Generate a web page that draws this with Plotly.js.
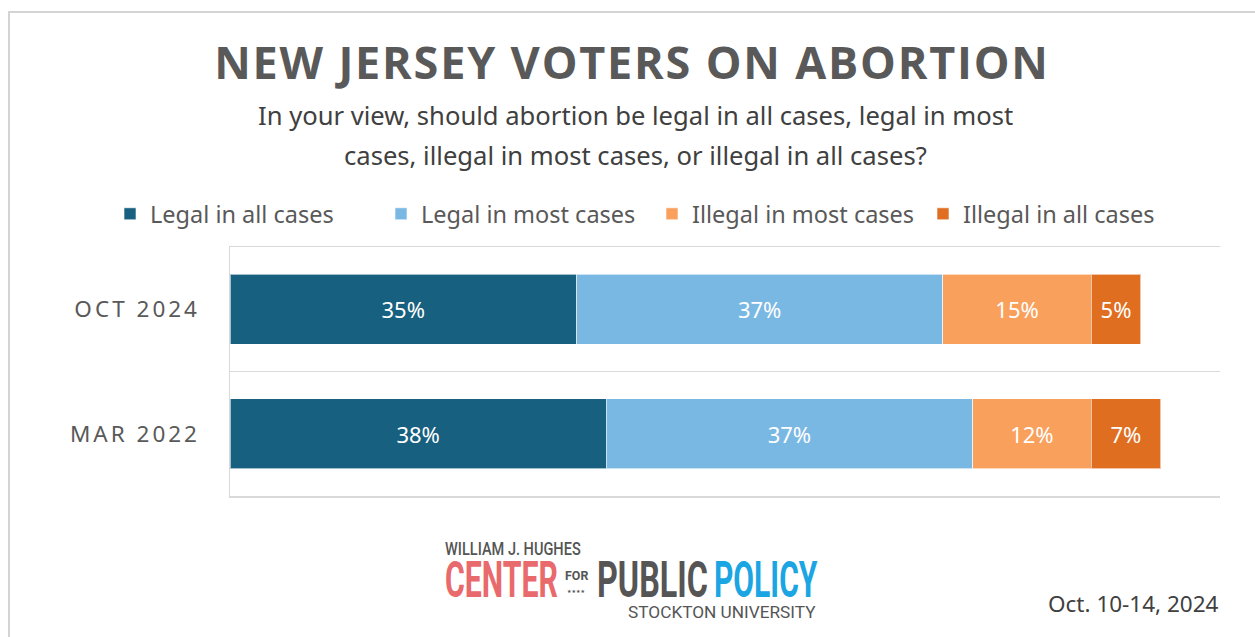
<!DOCTYPE html>
<html>
<head>
<meta charset="utf-8">
<script src="https://cdn.plot.ly/plotly-3.0.1.min.js"></script>
<style>
  html, body { margin: 0; padding: 0; background: #ffffff; }
  #wrap { position: relative; width: 1255px; height: 637px; overflow: hidden; }
  #frame { position: absolute; left: 8px; top: 11px; width: 1300px; height: 700px;
           border-top: 2px solid #d4d4d4; border-left: 2px solid #d4d4d4; }
  #chart { position: absolute; left: 0; top: 0; width: 1255px; height: 637px; }
  .ytick text { letter-spacing: 3px; }
  .gtitle { letter-spacing: 1.8px; }
</style>
</head>
<body>
<div id="wrap">
  <div id="frame"></div>
  <div id="chart"></div>
</div>
<script>
// ---- data ----
const periods = ['OCT 2024', 'MAR 2022'];
const seriesNames = ['Legal in all cases', 'Legal in most cases', 'Illegal in most cases', 'Illegal in all cases'];
const legalAll    = [35, 38];
const legalMost   = [37, 37];
const illegalMost = [15, 12];
const illegalAll  = [5, 7];
const seriesColors = ['#17607f', '#7ab8e4', '#f9a05c', '#e06e21'];

const seriesValues = [legalAll, legalMost, illegalMost, illegalAll];

const traces = seriesValues.map((vals, i) => ({
  type: 'bar',
  orientation: 'h',
  name: seriesNames[i],
  y: periods,
  x: vals,
  text: vals.map(v => v + '%'),
  textposition: 'inside',
  insidetextanchor: 'middle',
  constraintext: 'none',
  textfont: { family: 'Noto Sans, sans-serif', size: 22, color: '#ffffff' },
  marker: { color: seriesColors[i], line: { color: 'rgba(255,255,255,0.6)', width: 1 } },
  hoverinfo: 'skip'
}));

// pixel helpers for annotation placement (plot area: x 230..1220, y 247..496)
const px = p => (p - 230) / 990;
const py = p => (496 - p) / 249;

const logoFont = 'Roboto, sans-serif';

const layout = {
  width: 1255,
  height: 637,
  paper_bgcolor: 'rgba(0,0,0,0)',
  plot_bgcolor: 'rgba(0,0,0,0)',
  margin: { l: 230, r: 35, t: 247, b: 141, pad: 0, autoexpand: false },
  barmode: 'stack',
  bargap: 0.44,
  showlegend: true,
  title: {
    text: 'NEW JERSEY VOTERS ON ABORTION',
    font: { family: 'Open Sans, sans-serif', size: 45, color: '#595959', weight: 700 },
    xref: 'container', x: 632 / 1255, xanchor: 'center',
    yref: 'container', y: 1 - 63 / 637, yanchor: 'middle'
  },
  legend: {
    orientation: 'h',
    xref: 'paper', x: px(110), xanchor: 'left',
    yref: 'paper', y: py(214), yanchor: 'middle',
    font: { family: 'Noto Sans, sans-serif', size: 23.5, color: '#595959' },
    entrywidth: 226,
    entrywidthmode: 'pixels',
    traceorder: 'normal',
    itemclick: false, itemdoubleclick: false
  },
  xaxis: {
    range: [0, 100],
    showticklabels: false,
    showgrid: false,
    zeroline: false,
    ticks: '',
    showline: true,
    mirror: true,
    linecolor: '#d9d9d9',
    linewidth: 1.5,
    fixedrange: true
  },
  yaxis: {
    type: 'category',
    autorange: false,
    range: [1.5, -0.5],
    tickson: 'boundaries',
    showgrid: true,
    gridcolor: '#d9d9d9',
    gridwidth: 1.5,
    showline: true,
    linecolor: '#d9d9d9',
    linewidth: 1.5,
    ticks: '',
    ticklabelstandoff: 24,
    tickfont: { family: 'Noto Sans, sans-serif', size: 22.5, color: '#595959' },
    zeroline: false,
    fixedrange: true
  },
  annotations: [
    {
      text: 'In your view, should abortion be legal in all cases, legal in most',
      xref: 'paper', yref: 'paper', x: px(635), y: py(116),
      xanchor: 'center', yanchor: 'middle', showarrow: false, align: 'center',
      font: { family: 'Noto Sans, sans-serif', size: 25.6, color: '#404040' }
    },
    {
      text: 'cases, illegal in most cases, or illegal in all cases?',
      xref: 'paper', yref: 'paper', x: px(635), y: py(155),
      xanchor: 'center', yanchor: 'middle', showarrow: false, align: 'center',
      font: { family: 'Noto Sans, sans-serif', size: 25.6, color: '#404040' }
    },
    {
      text: 'WILLIAM J. HUGHES',
      xref: 'paper', yref: 'paper', x: px(443), y: py(548),
      xanchor: 'left', yanchor: 'middle', showarrow: false,
      font: { family: logoFont, size: 16, color: '#555555', weight: 500 }
    },
    {
      text: 'CENTER',
      xref: 'paper', yref: 'paper', x: px(443), y: py(580),
      xanchor: 'left', yanchor: 'middle', showarrow: false,
      font: { family: logoFont, size: 36, color: '#e96a6c', weight: 700 }
    },
    {
      text: 'FOR',
      xref: 'paper', yref: 'paper', x: px(563), y: py(575),
      xanchor: 'left', yanchor: 'middle', showarrow: false,
      font: { family: logoFont, size: 13, color: '#555555', weight: 700 }
    },
    {
      text: '★★★★',
      xref: 'paper', yref: 'paper', x: px(565), y: py(591),
      xanchor: 'left', yanchor: 'middle', showarrow: false,
      font: { family: 'DejaVu Sans, sans-serif', size: 5, color: '#555555' }
    },
    {
      text: 'PUBLIC',
      xref: 'paper', yref: 'paper', x: px(595), y: py(580),
      xanchor: 'left', yanchor: 'middle', showarrow: false,
      font: { family: logoFont, size: 36, color: '#555555', weight: 700 }
    },
    {
      text: 'POLICY',
      xref: 'paper', yref: 'paper', x: px(712), y: py(580),
      xanchor: 'left', yanchor: 'middle', showarrow: false,
      font: { family: logoFont, size: 36, color: '#1ba5e3', weight: 700 }
    },
    {
      text: 'STOCKTON UNIVERSITY',
      xref: 'paper', yref: 'paper', x: px(626), y: py(612),
      xanchor: 'left', yanchor: 'middle', showarrow: false,
      font: { family: logoFont, size: 16, color: '#555555' }
    },
    {
      text: 'Oct. 10-14, 2024',
      xref: 'paper', yref: 'paper', x: px(1221), y: py(603),
      xanchor: 'right', yanchor: 'middle', showarrow: false,
      font: { family: 'Noto Sans, sans-serif', size: 22.5, color: '#404040' }
    }
  ]
};

// logo word boxes: target width (px) and vertical stretch, to mimic the condensed logo typeface
const logoFit = {
  'WILLIAM J. HUGHES':   { w: 136, sy: 1.15 },
  'CENTER':              { w: 113, sy: 1.40 },
  'FOR':                 { w: 24,  sy: 1.0 },
  'PUBLIC':              { w: 111, sy: 1.40 },
  'POLICY':              { w: 104, sy: 1.40 },
  'STOCKTON UNIVERSITY': { w: 188, sy: 1.0 }
};

Plotly.newPlot('chart', traces, layout, { displayModeBar: false, staticPlot: true }).then(gd => {
  gd.querySelectorAll('.annotation-text').forEach(t => {
    const f = logoFit[t.textContent];
    if (!f) return;
    const b = t.getBBox();
    const sx = f.w / b.width;
    const x0 = b.x, cy = b.y + b.height / 2;
    t.setAttribute('transform',
      `translate(${x0},${cy}) scale(${sx},${f.sy}) translate(${-x0},${-cy})`);
  });
});
</script>
</body>
</html>
